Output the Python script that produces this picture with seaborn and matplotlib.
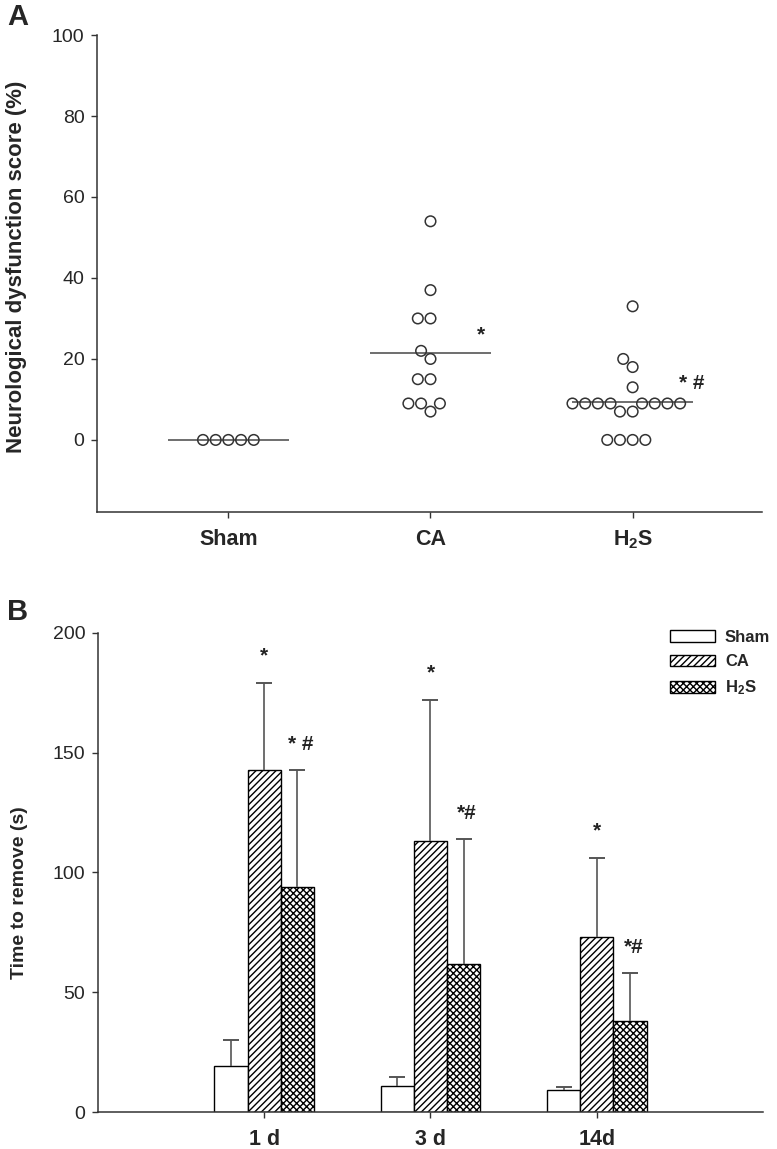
import matplotlib.pyplot as plt
from matplotlib.patches import Patch
import numpy as np
import pandas as pd
import seaborn as sns

# Panel A: neurological dysfunction score per animal (%)
groups_a = ["Sham", "CA", "H$_2$S"]
sham_scores = [0, 0, 0, 0, 0]
ca_scores = [54, 37, 30, 30, 22, 20, 15, 15, 9, 9, 9, 7]
h2s_scores = [33, 20, 18, 13, 9, 9, 9, 9, 9, 9, 9, 9, 7, 7, 0, 0, 0, 0]
marks_a = ["", "*", "* #"]

# Panel B: time to remove (s), mean and SD
days = ["1 d", "3 d", "14d"]
groups_b = ["Sham", "CA", "H2S"]
legend_labels = ["Sham", "CA", "H$_2$S"]
sham_mean = [19, 11, 9]
sham_sd = [11, 3.5, 1.5]
ca_mean = [143, 113, 73]
ca_sd = [36, 59, 33]
h2s_mean = [94, 62, 38]
h2s_sd = [49, 52, 20]
ca_marks = ["*", "*", "*"]
h2s_marks = ["* #", "*#", "*#"]

sns.set_theme(style="ticks")
plt.rcParams["font.family"] = ["Liberation Sans", "DejaVu Sans"]
plt.rcParams["mathtext.fontset"] = "custom"
plt.rcParams["mathtext.rm"] = "Liberation Sans"
plt.rcParams["mathtext.bf"] = "Liberation Sans:bold"
plt.rcParams["mathtext.default"] = "bf"
plt.rcParams["hatch.linewidth"] = 1.0

AXC = "#333333"

fig = plt.figure(figsize=(7.77, 11.49), dpi=100)
ax_a = fig.add_axes([0.1248, 0.5544, 0.8559, 0.4151])
ax_b = fig.add_axes([0.1261, 0.0322, 0.8559, 0.4169])

# ---- Panel A ----
df_a = pd.DataFrame({
    "group": np.repeat(groups_a, [len(sham_scores), len(ca_scores), len(h2s_scores)]),
    "score": sham_scores + ca_scores + h2s_scores,
})
means = df_a.groupby("group", sort=False)["score"].mean()
for i, g in enumerate(groups_a):
    ax_a.hlines(means[g], i - 0.3, i + 0.3, color="#555555", lw=1.2, zorder=1)

sns.swarmplot(data=df_a, x="group", y="score", order=groups_a, color="white",
              edgecolor=AXC, linewidth=1.1, size=7.6, ax=ax_a, zorder=3)
for coll in ax_a.collections:
    coll.set_facecolor("none")

for i, g in enumerate(groups_a):
    if marks_a[i]:
        ax_a.text(i + 0.23, means[g] + 4.6, marks_a[i], ha="left", va="center",
                  fontsize=15, fontweight="bold", color="#222222")

ax_a.set_xlim(-0.65, 2.64)
ax_a.set_ylim(-17.8, 100)
ax_a.set_yticks([0, 20, 40, 60, 80, 100])
ax_a.set_xlabel("")
ax_a.set_ylabel("Neurological dysfunction score (%)", fontsize=16, fontweight="bold")
ax_a.yaxis.set_label_coords(-0.105, 0.514)

# ---- Panel B ----
df_b = pd.DataFrame({
    "day": days * 3,
    "group": np.repeat(groups_b, len(days)),
    "time": sham_mean + ca_mean + h2s_mean,
})
sns.barplot(data=df_b, x="day", y="time", hue="group", order=days, hue_order=groups_b,
            palette={g: "white" for g in groups_b}, saturation=1, edgecolor="black",
            linewidth=1.0, width=0.6, errorbar=None, legend=False, ax=ax_b)

hatches = ["", "/////", "xxxxx"]
sds = [sham_sd, ca_sd, h2s_sd]
for k, (cont, hatch, sd_list) in enumerate(zip(ax_b.containers, hatches, sds)):
    for j, (bar, sd) in enumerate(zip(cont, sd_list)):
        bar.set_hatch(hatch)
        x = bar.get_x() + bar.get_width() / 2
        h = bar.get_height()
        ax_b.errorbar(x, h + sd / 2, yerr=sd / 2, color="#555555", lw=1.2,
                      capsize=0, zorder=2)
        ax_b.plot([x], [h + sd], marker="_", markersize=12, mew=1.4,
                  color="#555555", zorder=2)
        if k == 1:
            ax_b.text(x, h + sd + 11.5, ca_marks[j], ha="center", va="center",
                      fontsize=15, fontweight="bold", color="#222222")
        elif k == 2:
            ax_b.text(x + 0.02, h + sd + 10.5, h2s_marks[j], ha="center", va="center",
                      fontsize=15, fontweight="bold", color="#222222")

handles = [Patch(facecolor="white", edgecolor="black", hatch=h, lw=1.0) for h in hatches]
ax_b.legend(handles, legend_labels, loc="upper left", bbox_to_anchor=(0.86, 1.006),
            frameon=False, borderpad=0, borderaxespad=0, handlelength=2.7,
            handleheight=0.72, handletextpad=0.6, labelspacing=0.55,
            prop={"weight": "bold", "size": 12})

ax_b.set_xlim(-1, 3)
ax_b.set_ylim(0, 200)
ax_b.set_yticks([0, 50, 100, 150, 200])
ax_b.set_xlabel("")
ax_b.set_ylabel("Time to remove (s)", fontsize=14, fontweight="bold")
ax_b.yaxis.set_label_coords(-0.105, 0.457)

for ax in (ax_a, ax_b):
    sns.despine(ax=ax)
    for side in ("left", "bottom"):
        ax.spines[side].set_color(AXC)
        ax.spines[side].set_linewidth(1.1)
    ax.tick_params(axis="y", length=4, width=1.0, color=AXC, labelsize=14, pad=5)
    ax.tick_params(axis="x", length=4, width=1.0, color=AXC, labelsize=15.5, pad=8)
    for lab in ax.get_xticklabels():
        lab.set_fontweight("bold")

fig.text(7 / 777, 1 - 3 / 1149, "A", fontsize=21, fontweight="bold", va="top", ha="left")
fig.text(7 / 777, 1 - 598 / 1149, "B", fontsize=21, fontweight="bold", va="top", ha="left")

fig.savefig("out.png", dpi=100)
plt.close(fig)
